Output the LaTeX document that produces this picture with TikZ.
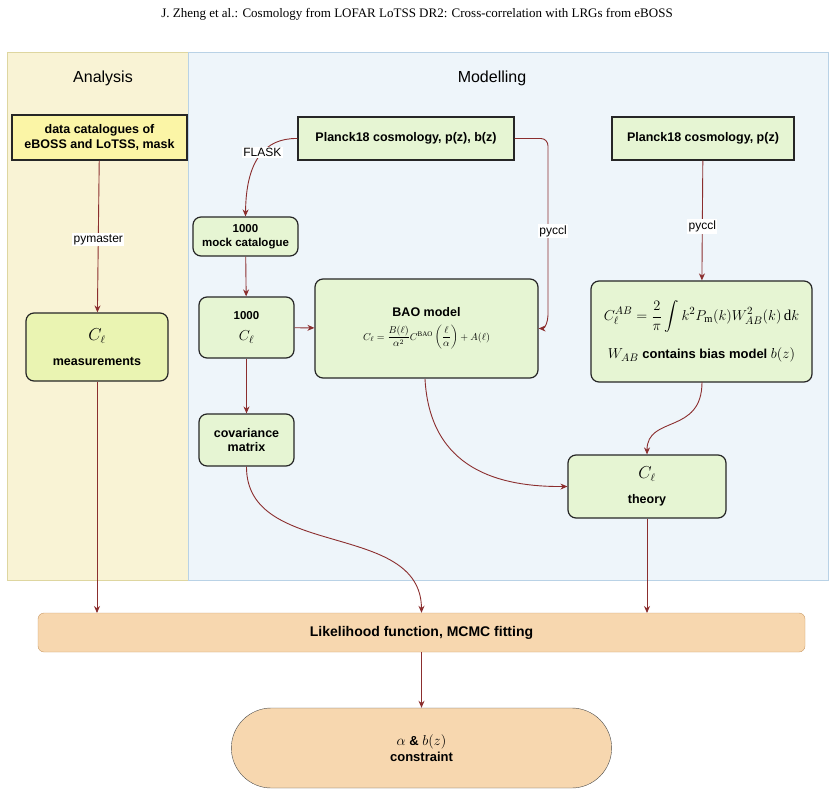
\documentclass[tikz,border=0pt]{standalone}
\usepackage{amsmath}
\usepackage{fontspec}
\setmainfont{Liberation Serif}
\setsansfont{Liberation Sans}
\usetikzlibrary{arrows.meta,shapes.misc}
\definecolor{arr}{HTML}{8B2E2E}
\definecolor{gfill}{HTML}{E6F5D3}
\definecolor{yfill}{HTML}{FBF5A6}
\definecolor{mfill}{HTML}{EAF4B2}
\definecolor{ofill}{HTML}{F7D7AF}
\definecolor{oline}{HTML}{C99A66}
\newcommand{\fs}[1]{\fontsize{#1}{#1}\selectfont}
\tikzset{
  box/.style={draw=black!85, line width=1.2pt, fill=gfill, font=\sffamily\bfseries\fs{12.5}, align=center, inner sep=0pt},
  rbox/.style={box, rounded corners=8pt},
  conn/.style={draw=arr, line width=0.9pt, -{Stealth[length=7pt,width=6pt]}},
  lab/.style={fill=white, font=\sffamily\fs{12}, inner sep=1.5pt},
}
\begin{document}
\begin{tikzpicture}[x=1pt,y=-1pt]
\useasboundingbox (0,0) rectangle (835,794);
\node[font=\fs{13}] (hdr) at (417,14) {J. Zheng et al.: Cosmology from LOFAR LoTSS DR2: Cross-correlation with LRGs from eBOSS};
% panels
\path[fill={rgb,255:red,249;green,243;blue,213}, draw={rgb,255:red,222;green,214;blue,160}] (7,52) rectangle (188,580);
\path[fill={rgb,255:red,238;green,245;blue,250}, draw={rgb,255:red,185;green,210;blue,230}] (188,52) rectangle (828,580);
\node[font=\sffamily\fs{16}] (ta) at (103,78) {Analysis};
\node[font=\sffamily\fs{16}] (tm) at (492,78) {Modelling};
% nodes
\node[box, fill=yfill, minimum width=175pt, minimum height=45pt] (data) at (99.5,137.5) {data catalogues of\\[2pt]eBOSS and LoTSS, mask};
\node[box, minimum width=216pt, minimum height=43pt] (pl1) at (406,138.5) {Planck18 cosmology, p(z), b(z)};
\node[box, minimum width=182pt, minimum height=43pt] (pl2) at (703,138.5) {Planck18 cosmology, p(z)};
\node[rbox, minimum width=105pt, minimum height=39pt, font=\sffamily\bfseries\fs{11.5}] (mock) at (245.5,236.5) {1000\\[2pt]mock catalogue};
\node[rbox, minimum width=95pt, minimum height=61pt, font=\sffamily\bfseries\fs{11.5}] (cl) at (246.5,327.5) {1000\\[10pt]{\fs{15}$C_\ell$}};
\node[rbox, minimum width=223pt, minimum height=99pt] (bao) at (426.5,328.5) {BAO model\\[8pt]{\fs{10}$C_\ell=\dfrac{B(\ell)}{\alpha^2}C^{\mathrm{BAO}}\left(\dfrac{\ell}{\alpha}\right)+A(\ell)$}};
\node[rbox, minimum width=221pt, minimum height=101pt, font=\sffamily\bfseries\fs{13}] (form) at (701.5,331.5) {{\fs{15}$\displaystyle C_\ell^{AB}=\frac{2}{\pi}\int k^2P_{\mathrm{m}}(k)W_{AB}^2(k)\,\mathrm{d}k$}\\[14pt]{\fs{15}$W_{AB}$} contains bias model {\fs{15}$b(z)$}};
\node[rbox, fill=mfill, minimum width=142pt, minimum height=68pt] (meas) at (97,347) {{\fs{16}$C_\ell$}\\[12pt]measurements};
\node[rbox, minimum width=95pt, minimum height=52pt] (cov) at (246.5,440) {covariance\\[2pt]matrix};
\node[rbox, minimum width=158pt, minimum height=63pt] (th) at (647,486.5) {{\fs{16}$C_\ell$}\\[12pt]theory};
\node[draw=oline, fill=ofill, rounded corners=6pt, minimum width=767pt, minimum height=39pt, font=\sffamily\bfseries\fs{14}] (like) at (421.5,632.5) {Likelihood function, MCMC fitting};
\node[draw=black!70, fill=ofill, rounded rectangle, minimum width=387pt, minimum height=80pt, font=\sffamily\bfseries\fs{13}, align=center] (res) at (421.5,748) {{\fs{15}$\alpha$} \& {\fs{15}$b(z)$}\\[2pt]constraint};
% connectors
\draw[conn] (data) -- node[lab, pos=0.52]{pymaster} (meas);
\draw[conn] (pl1.west) .. controls (265,138) and (246,160) .. node[lab, pos=0.45]{FLASK} (mock.north);
\draw[conn] (pl1.east) -- (541,138.5) to[out=0,in=90] (548,146) -- (548,315) to[out=-90,in=0] (bao.east);
\node[lab] (pyl1) at (553,231) {pyccl};
\draw[conn] (pl2) -- node[lab, pos=0.55]{pyccl} (form);
\draw[conn] (mock) -- (cl);
\draw[conn] (cl) -- (bao);
\draw[conn] (cl) -- (cov);
\draw[conn] (425,379) .. controls (430,470) and (500,487) .. (th.west);
\draw[conn] (702,382) .. controls (702,435) and (647,415) .. (th.north);
\draw[conn] (cov.south) .. controls (246,560) and (421,520) .. (like.north);
\draw[conn] (meas.south) -- (97,613);
\draw[conn] (th.south) -- (647,613);
\draw[conn] (like.south) -- (res.north);
\end{tikzpicture}
\end{document}
